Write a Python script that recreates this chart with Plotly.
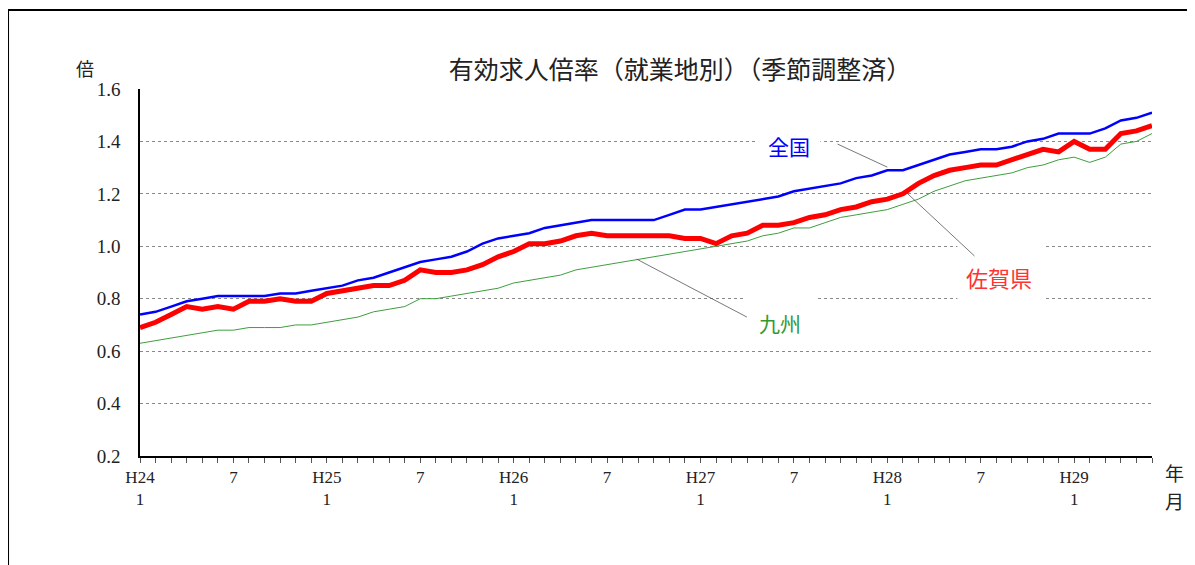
import plotly.graph_objects as go

# Months: H24/1 (2012-01) .. H29/6 (2017-06)
years = ["H24", "H25", "H26", "H27", "H28", "H29"]
month_counts = [12, 12, 12, 12, 12, 6]

zenkoku = [0.74, 0.75, 0.77, 0.79, 0.80, 0.81, 0.81, 0.81, 0.81, 0.82, 0.82, 0.83,
           0.84, 0.85, 0.87, 0.88, 0.90, 0.92, 0.94, 0.95, 0.96, 0.98, 1.01, 1.03,
           1.04, 1.05, 1.07, 1.08, 1.09, 1.10, 1.10, 1.10, 1.10, 1.10, 1.12, 1.14,
           1.14, 1.15, 1.16, 1.17, 1.18, 1.19, 1.21, 1.22, 1.23, 1.24, 1.26, 1.27,
           1.29, 1.29, 1.31, 1.33, 1.35, 1.36, 1.37, 1.37, 1.38, 1.40, 1.41, 1.43,
           1.43, 1.43, 1.45, 1.48, 1.49, 1.51]

saga = [0.69, 0.71, 0.74, 0.77, 0.76, 0.77, 0.76, 0.79, 0.79, 0.80, 0.79, 0.79,
        0.82, 0.83, 0.84, 0.85, 0.85, 0.87, 0.91, 0.90, 0.90, 0.91, 0.93, 0.96,
        0.98, 1.01, 1.01, 1.02, 1.04, 1.05, 1.04, 1.04, 1.04, 1.04, 1.04, 1.03,
        1.03, 1.01, 1.04, 1.05, 1.08, 1.08, 1.09, 1.11, 1.12, 1.14, 1.15, 1.17,
        1.18, 1.20, 1.24, 1.27, 1.29, 1.30, 1.31, 1.31, 1.33, 1.35, 1.37, 1.36,
        1.40, 1.37, 1.37, 1.43, 1.44, 1.46]

kyushu = [0.63, 0.64, 0.65, 0.66, 0.67, 0.68, 0.68, 0.69, 0.69, 0.69, 0.70, 0.70,
          0.71, 0.72, 0.73, 0.75, 0.76, 0.77, 0.80, 0.80, 0.81, 0.82, 0.83, 0.84,
          0.86, 0.87, 0.88, 0.89, 0.91, 0.92, 0.93, 0.94, 0.95, 0.96, 0.97, 0.98,
          0.99, 1.00, 1.01, 1.02, 1.04, 1.05, 1.07, 1.07, 1.09, 1.11, 1.12, 1.13,
          1.14, 1.16, 1.18, 1.21, 1.23, 1.25, 1.26, 1.27, 1.28, 1.30, 1.31, 1.33,
          1.34, 1.32, 1.34, 1.39, 1.40, 1.43]

y_ticks = [0.2, 0.4, 0.6, 0.8, 1.0, 1.2, 1.4, 1.6]

# build month index and tick labels
tickvals, ticktext = [], []
i = 0
for y, n in zip(years, month_counts):
    for m in range(1, n + 1):
        tickvals.append(i)
        if m == 1:
            ticktext.append(f"{y}<br>1")
        elif m == 7:
            ticktext.append("7")
        else:
            ticktext.append("")
        i += 1
x = list(range(len(zenkoku)))

SERIF = "Liberation Serif, DejaVu Serif, serif"
CJK = "Noto Sans CJK JP, sans-serif"

fig = go.Figure()
fig.add_trace(go.Scatter(x=x, y=kyushu, mode="lines", name="九州",
                         line=dict(color="#3E9E3E", width=1)))
fig.add_trace(go.Scatter(x=x, y=zenkoku, mode="lines", name="全国",
                         line=dict(color="#0000FF", width=2.5)))
fig.add_trace(go.Scatter(x=x, y=saga, mode="lines", name="佐賀県",
                         line=dict(color="#FF0000", width=5)))

shapes = []
# white gaps behind labels (between gridlines and traces)
for (x0, x1, y0, y1) in [(39.6, 43.7, 1.37, 1.43), (38.8, 43.4, 0.77, 0.83),
                         (52.5, 58.1, 0.77, 1.03)]:
    shapes.append(dict(type="rect", xref="x", yref="y", x0=x0, x1=x1, y0=y0, y1=y1,
                       fillcolor="white", line=dict(width=0), layer="between"))
shapes.append(dict(type="rect", xref="paper", yref="paper", x0=0.2895, x1=0.7925,
                   y0=0.985, y1=1.02, fillcolor="white", line=dict(width=0),
                   layer="between"))
# leader lines
for (x0, y0, x1, y1) in [(44.8, 1.390, 48.0, 1.302), (49.26, 1.203, 53.6, 0.963),
                         (31.9, 0.951, 38.98, 0.730)]:
    shapes.append(dict(type="line", xref="x", yref="y", x0=x0, y0=y0, x1=x1, y1=y1,
                       line=dict(color="#555555", width=0.8), layer="above"))
# outer frame
shapes.append(dict(type="rect", xref="paper", yref="paper", x0=-0.1304, x1=1.06,
                   y0=-0.35, y1=1.2153, line=dict(color="black", width=2),
                   fillcolor="rgba(0,0,0,0)", layer="above"))

annotations = [
    dict(text="全国", x=41.7, y=1.383, xref="x", yref="y", showarrow=False,
         font=dict(family=CJK, size=21, color="#0000FF")),
    dict(text="佐賀県", x=55.2, y=0.883, xref="x", yref="y", showarrow=False,
         font=dict(family=CJK, size=22, color="#FF3333")),
    dict(text="九州", x=41.1, y=0.707, xref="x", yref="y", showarrow=False,
         font=dict(family=CJK, size=21, color="#339933")),
    dict(text="倍", x=-0.0543, y=1.057, xref="paper", yref="paper", showarrow=False,
         xanchor="center", yanchor="middle",
         font=dict(family=CJK, size=18, color="#222222")),
    dict(text="年", x=1.0227, y=-0.046, xref="paper", yref="paper", showarrow=False,
         xanchor="center", yanchor="middle",
         font=dict(family=CJK, size=19, color="#222222")),
    dict(text="月", x=1.0227, y=-0.12, xref="paper", yref="paper", showarrow=False,
         xanchor="center", yanchor="middle",
         font=dict(family=CJK, size=19, color="#222222")),
]

fig.update_layout(
    width=1187, height=557,
    margin=dict(l=132, r=43, t=81, b=109),
    paper_bgcolor="white", plot_bgcolor="white",
    showlegend=False,
    title=dict(text="有効求人倍率（就業地別）（季節調整済）", x=0.5336, xref="paper",
               y=1 - 62 / 557, yref="container", xanchor="center", yanchor="middle",
               font=dict(family=CJK, size=25, color="#222222")),
    shapes=shapes,
    annotations=annotations,
)
fig.update_xaxes(
    range=[0, len(x) - 1], tickmode="array", tickvals=tickvals, ticktext=ticktext,
    ticks="outside", ticklen=5, tickcolor="#555555", tickwidth=1,
    showline=True, linecolor="black", linewidth=1.5, showgrid=False, zeroline=False,
    tickfont=dict(family=SERIF, size=17, color="#222222"), tickangle=0,
)
fig.update_yaxes(
    range=[0.2, 1.6], tickmode="array", tickvals=y_ticks,
    ticktext=[f"{v:.1f}" for v in y_ticks],
    showline=True, linecolor="black", linewidth=1.5, ticks="",
    showgrid=True, gridcolor="#888888", griddash="dot", gridwidth=1,
    zeroline=False, ticklabelstandoff=14,
    tickfont=dict(family=SERIF, size=19, color="#222222"),
)

fig.write_html("out.html")
